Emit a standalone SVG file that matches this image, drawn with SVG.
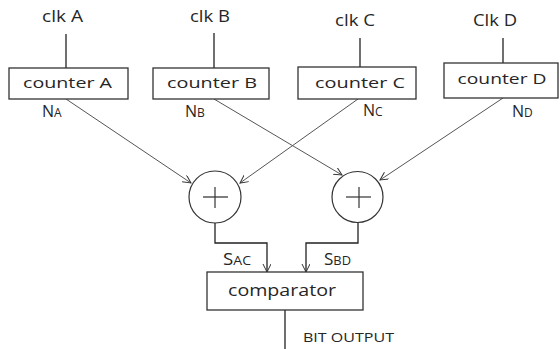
<svg xmlns="http://www.w3.org/2000/svg" width="560" height="349" viewBox="0 0 560 349">
<style>
text{font-family:"Open Sans","Noto Sans",sans-serif;fill:#262626}
.lbl{font-size:15px}
.big{font-size:16px}
.box{fill:#fff;stroke:#333;stroke-width:1.3}
.wire{fill:none;stroke:#222;stroke-width:1.3}
.diag{fill:none;stroke:#555;stroke-width:1}
.sub{font-size:12px}
</style>
<defs>
<marker id="arr" markerUnits="userSpaceOnUse" markerWidth="10" markerHeight="10" refX="8" refY="4" orient="auto">
<path d="M0,0 L8,4 L0,8" fill="none" stroke="#333" stroke-width="1"/>
</marker>
</defs>
<rect width="560" height="349" fill="#fff"/>
<g id="connectors">
<line class="wire" x1="66" y1="34" x2="66" y2="68"/>
<line class="wire" x1="214" y1="33" x2="214" y2="68"/>
<line class="wire" x1="360" y1="38" x2="360" y2="67"/>
<line class="wire" x1="503" y1="38" x2="503" y2="63"/>
<line class="diag" x1="66" y1="99" x2="191" y2="183" marker-end="url(#arr)"/>
<line class="diag" x1="214" y1="99" x2="342" y2="175" marker-end="url(#arr)"/>
<line class="diag" x1="358" y1="99" x2="240" y2="183" marker-end="url(#arr)"/>
<line class="diag" x1="503" y1="98" x2="380" y2="180" marker-end="url(#arr)"/>
<path class="wire" d="M215,223 V243 H267 V272" marker-end="url(#arr)"/>
<path class="wire" d="M358,223 V243 H306 V272" marker-end="url(#arr)"/>
<line class="wire" x1="285" y1="310" x2="285" y2="349"/>
</g>
<g id="clkA"><text class="big" x="42" y="22" textLength="41" lengthAdjust="spacingAndGlyphs">clk A</text></g>
<g id="clkB"><text class="big" x="190" y="22" textLength="40" lengthAdjust="spacingAndGlyphs">clk B</text></g>
<g id="clkC"><text class="big" x="335" y="26" textLength="40" lengthAdjust="spacingAndGlyphs">clk C</text></g>
<g id="clkD"><text class="big" x="473" y="26" textLength="44" lengthAdjust="spacingAndGlyphs">Clk D</text></g>
<g id="counterA"><rect class="box" x="9" y="68" width="119" height="31"/><text class="lbl" x="67.5" y="88" text-anchor="middle" textLength="89" lengthAdjust="spacingAndGlyphs">counter A</text></g>
<g id="counterB"><rect class="box" x="153" y="68" width="116" height="31"/><text class="lbl" x="212" y="88" text-anchor="middle" textLength="90" lengthAdjust="spacingAndGlyphs">counter B</text></g>
<g id="counterC"><rect class="box" x="298" y="67" width="118" height="32"/><text class="lbl" x="360" y="88" text-anchor="middle" textLength="90" lengthAdjust="spacingAndGlyphs">counter C</text></g>
<g id="counterD"><rect class="box" x="444" y="63" width="114" height="35"/><text class="lbl" x="502" y="84" text-anchor="middle" textLength="89" lengthAdjust="spacingAndGlyphs">counter D</text></g>
<g id="NA"><text class="big" x="42" y="117">N<tspan class="sub">A</tspan></text></g>
<g id="NB"><text class="big" x="185" y="117">N<tspan class="sub">B</tspan></text></g>
<g id="NC"><text class="big" x="363" y="116">N<tspan class="sub">C</tspan></text></g>
<g id="ND"><text class="big" x="512" y="117">N<tspan class="sub">D</tspan></text></g>
<g id="adder1">
<circle cx="215" cy="197" r="26" fill="none" stroke="#333" stroke-width="1.2"/>
<line x1="203" y1="197" x2="228" y2="197" stroke="#555" stroke-width="1.5"/>
<line x1="215" y1="187" x2="215" y2="208" stroke="#333" stroke-width="1.2"/>
</g>
<g id="adder2">
<circle cx="357.5" cy="197" r="25.5" fill="none" stroke="#333" stroke-width="1.2"/>
<line x1="346" y1="197" x2="371" y2="197" stroke="#333" stroke-width="1.2"/>
<line x1="359" y1="187" x2="359" y2="208" stroke="#333" stroke-width="1.2"/>
</g>
<g id="SAC"><text class="big" x="223" y="265" textLength="28" lengthAdjust="spacingAndGlyphs">S<tspan class="sub">AC</tspan></text></g>
<g id="SBD"><text class="big" x="324" y="265" textLength="27" lengthAdjust="spacingAndGlyphs">S<tspan class="sub">BD</tspan></text></g>
<g id="comparator"><rect class="box" x="207" y="272" width="156" height="38"/><text x="282" y="296" font-size="17" text-anchor="middle" textLength="108" lengthAdjust="spacingAndGlyphs">comparator</text></g>
<g id="bitoutput"><text x="303" y="342" font-size="13" textLength="91" lengthAdjust="spacingAndGlyphs">BIT OUTPUT</text></g>
</svg>
